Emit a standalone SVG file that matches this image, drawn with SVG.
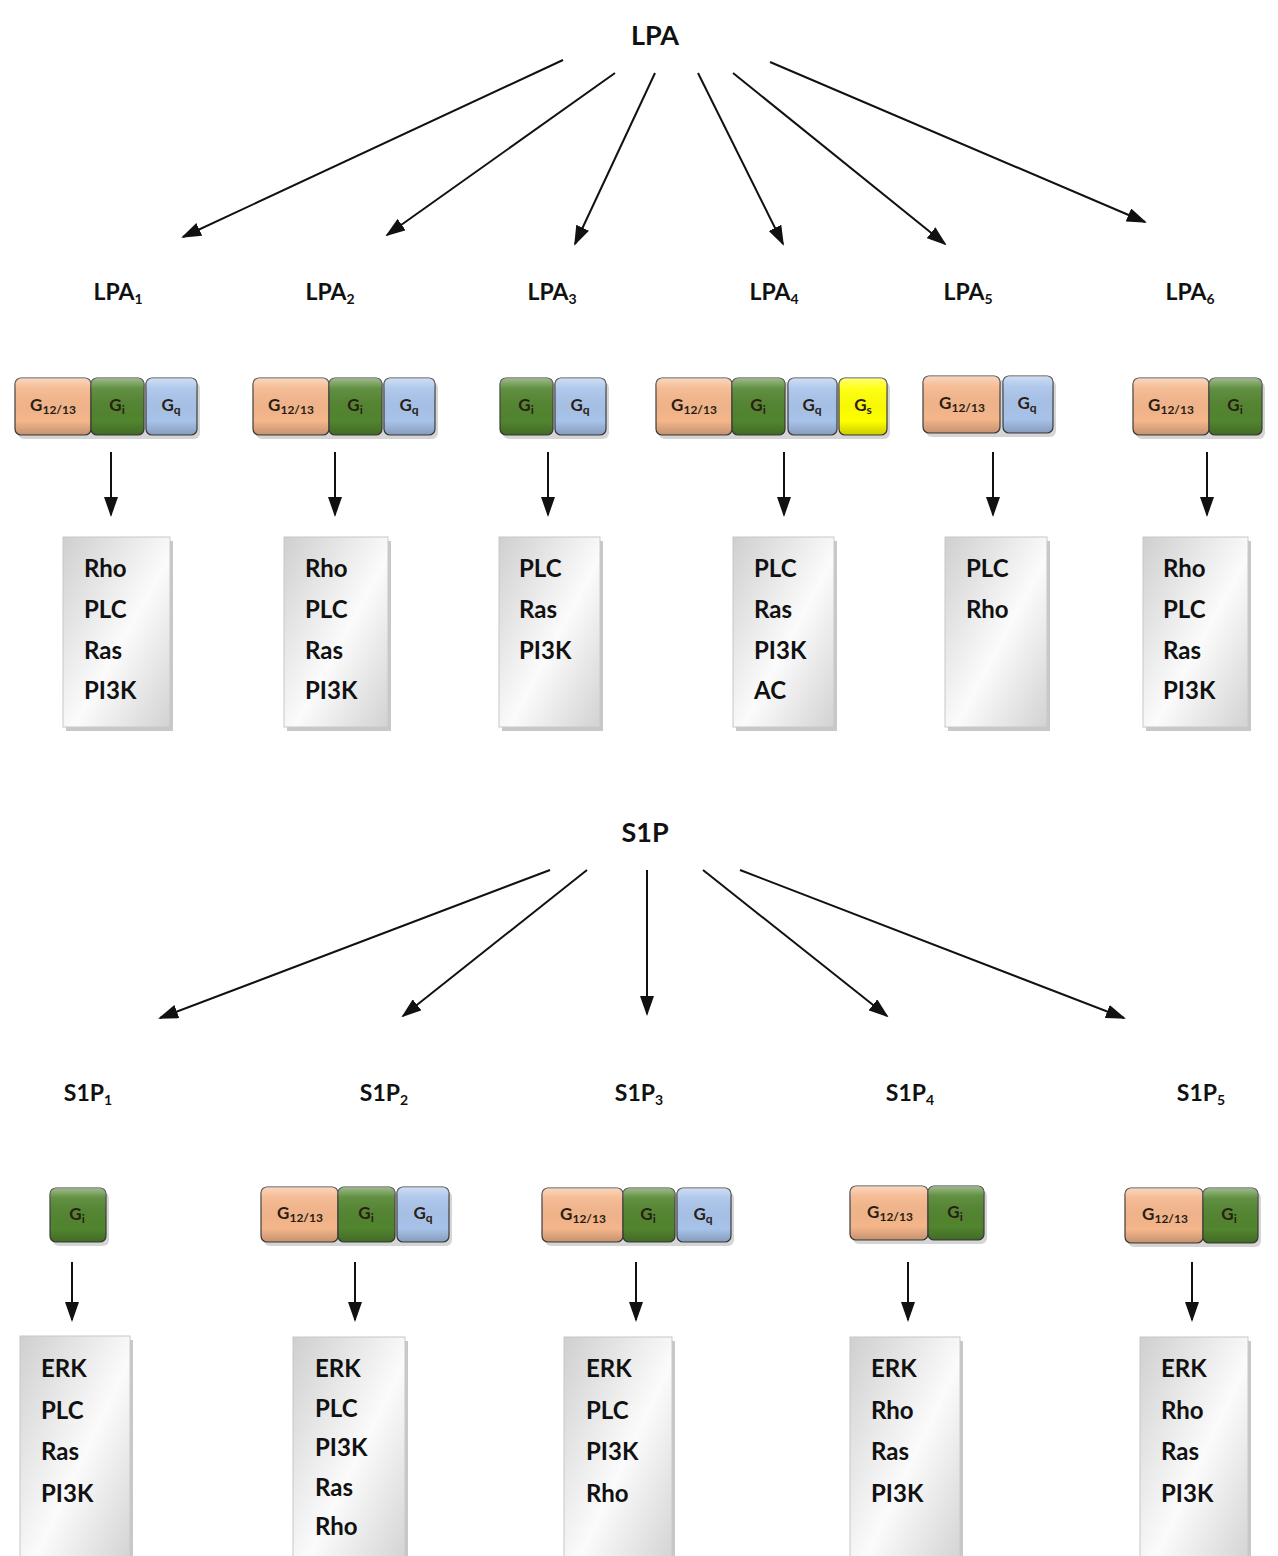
<svg xmlns="http://www.w3.org/2000/svg" width="1278" height="1556" viewBox="0 0 1278 1556">
<style>
text{font-family:Lato,"Open Sans","Liberation Sans",sans-serif;font-weight:bold;fill:#111}
.hdr{font-size:27px;text-anchor:middle}
.rl{font-size:23px;text-anchor:middle}
.sub{font-size:14px}
.li{font-size:24px}
.g{font-size:17px;text-anchor:middle;fill:#2a1e14}
.gs{font-size:12px}
.arr{stroke:#111;stroke-width:2;fill:none;marker-end:url(#ah)}
.o{fill:#f5b68b}
.gr{fill:#52852f}
.b{fill:#a8c3ea}
.y{fill:#ffff00}
.gb{stroke:#3c3c3c;stroke-width:1.2}
.ov{fill:url(#bev);stroke:none}
.box{fill:url(#gray);stroke:#c8c8c8;stroke-width:1}
.sh{fill:#9a9a9a;opacity:0.55}
.gsh{fill:#888;opacity:0.35}
</style>
<defs>
<marker id="ah" viewBox="0 0 20 14" refX="18" refY="7" markerWidth="20" markerHeight="14" markerUnits="userSpaceOnUse" orient="auto">
<path d="M0,0 L20,7 L0,14 Z" fill="#111"/>
</marker>
<linearGradient id="gray" x1="0" y1="0" x2="1" y2="1">
<stop offset="0" stop-color="#cfcfcf"/>
<stop offset="0.55" stop-color="#fbfbfb"/>
<stop offset="1" stop-color="#d2d2d2"/>
</linearGradient>
<linearGradient id="bev" x1="0" y1="0" x2="0" y2="1">
<stop offset="0" stop-color="#fff" stop-opacity="0.45"/>
<stop offset="0.18" stop-color="#fff" stop-opacity="0.1"/>
<stop offset="0.75" stop-color="#000" stop-opacity="0"/>
<stop offset="1" stop-color="#000" stop-opacity="0.2"/>
</linearGradient>
</defs>

<g id="connectors">
<line class="arr" x1="563" y1="60" x2="183" y2="237"/>
<line class="arr" x1="615" y1="73" x2="387" y2="235"/>
<line class="arr" x1="655" y1="73" x2="575" y2="244"/>
<line class="arr" x1="698" y1="73" x2="783" y2="244"/>
<line class="arr" x1="733" y1="73" x2="945" y2="244"/>
<line class="arr" x1="770" y1="62" x2="1145" y2="222"/>
<line class="arr" x1="111" y1="452" x2="111" y2="515"/>
<line class="arr" x1="335" y1="452" x2="335" y2="515"/>
<line class="arr" x1="548" y1="452" x2="548" y2="515"/>
<line class="arr" x1="784" y1="452" x2="784" y2="515"/>
<line class="arr" x1="993" y1="452" x2="993" y2="515"/>
<line class="arr" x1="1207" y1="452" x2="1207" y2="515"/>
<line class="arr" x1="550" y1="870" x2="160" y2="1018"/>
<line class="arr" x1="587" y1="870" x2="403" y2="1016"/>
<line class="arr" x1="647" y1="870" x2="647" y2="1014"/>
<line class="arr" x1="703" y1="870" x2="887" y2="1016"/>
<line class="arr" x1="740" y1="870" x2="1124" y2="1018"/>
<line class="arr" x1="72" y1="1262" x2="72" y2="1320"/>
<line class="arr" x1="355" y1="1262" x2="355" y2="1320"/>
<line class="arr" x1="636" y1="1262" x2="636" y2="1320"/>
<line class="arr" x1="908" y1="1262" x2="908" y2="1320"/>
<line class="arr" x1="1192" y1="1262" x2="1192" y2="1320"/>
</g>

<g id="LPA"><text class="hdr" x="655" y="45">LPA</text></g>
<g id="S1P"><text class="hdr" x="645" y="842">S1P</text></g>

<g id="LPA1-label"><text class="rl" x="118" y="300">LPA<tspan class="sub" dy="4">1</tspan></text></g>
<g id="LPA2-label"><text class="rl" x="330" y="300">LPA<tspan class="sub" dy="4">2</tspan></text></g>
<g id="LPA3-label"><text class="rl" x="552" y="300">LPA<tspan class="sub" dy="4">3</tspan></text></g>
<g id="LPA4-label"><text class="rl" x="774" y="300">LPA<tspan class="sub" dy="4">4</tspan></text></g>
<g id="LPA5-label"><text class="rl" x="968" y="300">LPA<tspan class="sub" dy="4">5</tspan></text></g>
<g id="LPA6-label"><text class="rl" x="1190" y="300">LPA<tspan class="sub" dy="4">6</tspan></text></g>

<g id="S1P1-label"><text class="rl" x="88" y="1101">S1P<tspan class="sub" dy="4">1</tspan></text></g>
<g id="S1P2-label"><text class="rl" x="384" y="1101">S1P<tspan class="sub" dy="4">2</tspan></text></g>
<g id="S1P3-label"><text class="rl" x="639" y="1101">S1P<tspan class="sub" dy="4">3</tspan></text></g>
<g id="S1P4-label"><text class="rl" x="910" y="1101">S1P<tspan class="sub" dy="4">4</tspan></text></g>
<g id="S1P5-label"><text class="rl" x="1201" y="1101">S1P<tspan class="sub" dy="4">5</tspan></text></g>

<!-- LPA G proteins -->
<g id="LPA1-G">
<rect class="gsh" x="18" y="382" width="182" height="57" rx="6"/>
<rect class="o gb" x="15" y="378" width="76" height="57" rx="6"/><rect class="ov" x="15" y="378" width="76" height="57" rx="6"/>
<rect class="gr gb" x="91" y="378" width="53" height="57" rx="6"/><rect class="ov" x="91" y="378" width="53" height="57" rx="6"/>
<rect class="b gb" x="146" y="378" width="51" height="57" rx="6"/><rect class="ov" x="146" y="378" width="51" height="57" rx="6"/>
<text class="g" x="53" y="411">G<tspan class="gs" dy="3">12/13</tspan></text>
<text class="g" x="117" y="411">G<tspan class="gs" dy="3">i</tspan></text>
<text class="g" x="171" y="411">G<tspan class="gs" dy="3">q</tspan></text>
</g>
<g id="LPA2-G">
<rect class="gsh" x="256" y="382" width="182" height="57" rx="6"/>
<rect class="o gb" x="253" y="378" width="76" height="57" rx="6"/><rect class="ov" x="253" y="378" width="76" height="57" rx="6"/>
<rect class="gr gb" x="329" y="378" width="53" height="57" rx="6"/><rect class="ov" x="329" y="378" width="53" height="57" rx="6"/>
<rect class="b gb" x="384" y="378" width="51" height="57" rx="6"/><rect class="ov" x="384" y="378" width="51" height="57" rx="6"/>
<text class="g" x="291" y="411">G<tspan class="gs" dy="3">12/13</tspan></text>
<text class="g" x="355" y="411">G<tspan class="gs" dy="3">i</tspan></text>
<text class="g" x="409" y="411">G<tspan class="gs" dy="3">q</tspan></text>
</g>
<g id="LPA3-G">
<rect class="gsh" x="503" y="382" width="106" height="57" rx="6"/>
<rect class="gr gb" x="500" y="378" width="53" height="57" rx="6"/><rect class="ov" x="500" y="378" width="53" height="57" rx="6"/>
<rect class="b gb" x="555" y="378" width="51" height="57" rx="6"/><rect class="ov" x="555" y="378" width="51" height="57" rx="6"/>
<text class="g" x="526" y="411">G<tspan class="gs" dy="3">i</tspan></text>
<text class="g" x="580" y="411">G<tspan class="gs" dy="3">q</tspan></text>
</g>
<g id="LPA4-G">
<rect class="gsh" x="659" y="382" width="231" height="57" rx="6"/>
<rect class="o gb" x="656" y="378" width="76" height="57" rx="6"/><rect class="ov" x="656" y="378" width="76" height="57" rx="6"/>
<rect class="gr gb" x="732" y="378" width="53" height="57" rx="6"/><rect class="ov" x="732" y="378" width="53" height="57" rx="6"/>
<rect class="b gb" x="788" y="378" width="49" height="57" rx="6"/><rect class="ov" x="788" y="378" width="49" height="57" rx="6"/>
<rect class="y gb" x="839" y="378" width="48" height="57" rx="6"/><rect class="ov" x="839" y="378" width="48" height="57" rx="6"/>
<text class="g" x="694" y="411">G<tspan class="gs" dy="3">12/13</tspan></text>
<text class="g" x="758" y="411">G<tspan class="gs" dy="3">i</tspan></text>
<text class="g" x="812" y="411">G<tspan class="gs" dy="3">q</tspan></text>
<text class="g" x="863" y="411">G<tspan class="gs" dy="3">s</tspan></text>
</g>
<g id="LPA5-G">
<rect class="gsh" x="926" y="380" width="130" height="57" rx="6"/>
<rect class="o gb" x="923" y="376" width="77" height="57" rx="6"/><rect class="ov" x="923" y="376" width="77" height="57" rx="6"/>
<rect class="b gb" x="1003" y="376" width="50" height="57" rx="6"/><rect class="ov" x="1003" y="376" width="50" height="57" rx="6"/>
<text class="g" x="962" y="409">G<tspan class="gs" dy="3">12/13</tspan></text>
<text class="g" x="1027" y="409">G<tspan class="gs" dy="3">q</tspan></text>
</g>
<g id="LPA6-G">
<rect class="gsh" x="1136" y="382" width="129" height="57" rx="6"/>
<rect class="o gb" x="1133" y="378" width="76" height="57" rx="6"/><rect class="ov" x="1133" y="378" width="76" height="57" rx="6"/>
<rect class="gr gb" x="1209" y="378" width="53" height="57" rx="6"/><rect class="ov" x="1209" y="378" width="53" height="57" rx="6"/>
<text class="g" x="1171" y="411">G<tspan class="gs" dy="3">12/13</tspan></text>
<text class="g" x="1235" y="411">G<tspan class="gs" dy="3">i</tspan></text>
</g>

<!-- LPA effector boxes -->
<g id="LPA1-box">
<rect class="sh" x="66" y="541" width="107" height="190"/>
<rect class="box" x="63" y="537" width="107" height="190"/>
<text class="li" x="84" y="577">Rho</text><text class="li" x="84" y="618">PLC</text><text class="li" x="84" y="659">Ras</text><text class="li" x="84" y="699">PI3K</text>
</g>
<g id="LPA2-box">
<rect class="sh" x="287" y="541" width="104" height="190"/>
<rect class="box" x="284" y="537" width="104" height="190"/>
<text class="li" x="305" y="577">Rho</text><text class="li" x="305" y="618">PLC</text><text class="li" x="305" y="659">Ras</text><text class="li" x="305" y="699">PI3K</text>
</g>
<g id="LPA3-box">
<rect class="sh" x="502" y="541" width="101" height="190"/>
<rect class="box" x="499" y="537" width="101" height="190"/>
<text class="li" x="519" y="577">PLC</text><text class="li" x="519" y="618">Ras</text><text class="li" x="519" y="659">PI3K</text>
</g>
<g id="LPA4-box">
<rect class="sh" x="736" y="541" width="101" height="190"/>
<rect class="box" x="733" y="537" width="101" height="190"/>
<text class="li" x="754" y="577">PLC</text><text class="li" x="754" y="618">Ras</text><text class="li" x="754" y="659">PI3K</text><text class="li" x="754" y="699">AC</text>
</g>
<g id="LPA5-box">
<rect class="sh" x="948" y="541" width="102" height="190"/>
<rect class="box" x="945" y="537" width="102" height="190"/>
<text class="li" x="966" y="577">PLC</text><text class="li" x="966" y="618">Rho</text>
</g>
<g id="LPA6-box">
<rect class="sh" x="1146" y="541" width="105" height="190"/>
<rect class="box" x="1143" y="537" width="105" height="190"/>
<text class="li" x="1163" y="577">Rho</text><text class="li" x="1163" y="618">PLC</text><text class="li" x="1163" y="659">Ras</text><text class="li" x="1163" y="699">PI3K</text>
</g>

<!-- S1P G proteins -->
<g id="S1P1-G">
<rect class="gsh" x="53" y="1192" width="56" height="54" rx="6"/>
<rect class="gr gb" x="50" y="1188" width="56" height="54" rx="6"/><rect class="ov" x="50" y="1188" width="56" height="54" rx="6"/>
<text class="g" x="77" y="1220">G<tspan class="gs" dy="3">i</tspan></text>
</g>
<g id="S1P2-G">
<rect class="gsh" x="264" y="1191" width="188" height="55" rx="6"/>
<rect class="o gb" x="261" y="1187" width="77" height="55" rx="6"/><rect class="ov" x="261" y="1187" width="77" height="55" rx="6"/>
<rect class="gr gb" x="338" y="1187" width="57" height="55" rx="6"/><rect class="ov" x="338" y="1187" width="57" height="55" rx="6"/>
<rect class="b gb" x="397" y="1187" width="52" height="55" rx="6"/><rect class="ov" x="397" y="1187" width="52" height="55" rx="6"/>
<text class="g" x="300" y="1219">G<tspan class="gs" dy="3">12/13</tspan></text>
<text class="g" x="366" y="1219">G<tspan class="gs" dy="3">i</tspan></text>
<text class="g" x="423" y="1219">G<tspan class="gs" dy="3">q</tspan></text>
</g>
<g id="S1P3-G">
<rect class="gsh" x="545" y="1192" width="189" height="54" rx="6"/>
<rect class="o gb" x="542" y="1188" width="81" height="54" rx="6"/><rect class="ov" x="542" y="1188" width="81" height="54" rx="6"/>
<rect class="gr gb" x="623" y="1188" width="52" height="54" rx="6"/><rect class="ov" x="623" y="1188" width="52" height="54" rx="6"/>
<rect class="b gb" x="677" y="1188" width="54" height="54" rx="6"/><rect class="ov" x="677" y="1188" width="54" height="54" rx="6"/>
<text class="g" x="583" y="1220">G<tspan class="gs" dy="3">12/13</tspan></text>
<text class="g" x="648" y="1220">G<tspan class="gs" dy="3">i</tspan></text>
<text class="g" x="703" y="1220">G<tspan class="gs" dy="3">q</tspan></text>
</g>
<g id="S1P4-G">
<rect class="gsh" x="853" y="1190" width="134" height="54" rx="6"/>
<rect class="o gb" x="850" y="1186" width="78" height="54" rx="6"/><rect class="ov" x="850" y="1186" width="78" height="54" rx="6"/>
<rect class="gr gb" x="928" y="1186" width="56" height="54" rx="6"/><rect class="ov" x="928" y="1186" width="56" height="54" rx="6"/>
<text class="g" x="890" y="1218">G<tspan class="gs" dy="3">12/13</tspan></text>
<text class="g" x="955" y="1218">G<tspan class="gs" dy="3">i</tspan></text>
</g>
<g id="S1P5-G">
<rect class="gsh" x="1128" y="1192" width="133" height="55" rx="6"/>
<rect class="o gb" x="1125" y="1188" width="78" height="55" rx="6"/><rect class="ov" x="1125" y="1188" width="78" height="55" rx="6"/>
<rect class="gr gb" x="1203" y="1188" width="55" height="55" rx="6"/><rect class="ov" x="1203" y="1188" width="55" height="55" rx="6"/>
<text class="g" x="1165" y="1220">G<tspan class="gs" dy="3">12/13</tspan></text>
<text class="g" x="1229" y="1220">G<tspan class="gs" dy="3">i</tspan></text>
</g>

<!-- S1P effector boxes -->
<g id="S1P1-box">
<rect class="sh" x="23" y="1340" width="110" height="230"/>
<rect class="box" x="20" y="1336" width="110" height="230"/>
<text class="li" x="41" y="1377">ERK</text><text class="li" x="41" y="1419">PLC</text><text class="li" x="41" y="1460">Ras</text><text class="li" x="41" y="1502">PI3K</text>
</g>
<g id="S1P2-box">
<rect class="sh" x="296" y="1341" width="112" height="230"/>
<rect class="box" x="293" y="1337" width="112" height="230"/>
<text class="li" x="315" y="1377">ERK</text><text class="li" x="315" y="1417">PLC</text><text class="li" x="315" y="1456">PI3K</text><text class="li" x="315" y="1496">Ras</text><text class="li" x="315" y="1535">Rho</text>
</g>
<g id="S1P3-box">
<rect class="sh" x="567" y="1341" width="108" height="230"/>
<rect class="box" x="564" y="1337" width="108" height="230"/>
<text class="li" x="586" y="1377">ERK</text><text class="li" x="586" y="1419">PLC</text><text class="li" x="586" y="1460">PI3K</text><text class="li" x="586" y="1502">Rho</text>
</g>
<g id="S1P4-box">
<rect class="sh" x="853" y="1341" width="110" height="230"/>
<rect class="box" x="850" y="1337" width="110" height="230"/>
<text class="li" x="871" y="1377">ERK</text><text class="li" x="871" y="1419">Rho</text><text class="li" x="871" y="1460">Ras</text><text class="li" x="871" y="1502">PI3K</text>
</g>
<g id="S1P5-box">
<rect class="sh" x="1143" y="1341" width="108" height="230"/>
<rect class="box" x="1140" y="1337" width="108" height="230"/>
<text class="li" x="1161" y="1377">ERK</text><text class="li" x="1161" y="1419">Rho</text><text class="li" x="1161" y="1460">Ras</text><text class="li" x="1161" y="1502">PI3K</text>
</g>
</svg>
